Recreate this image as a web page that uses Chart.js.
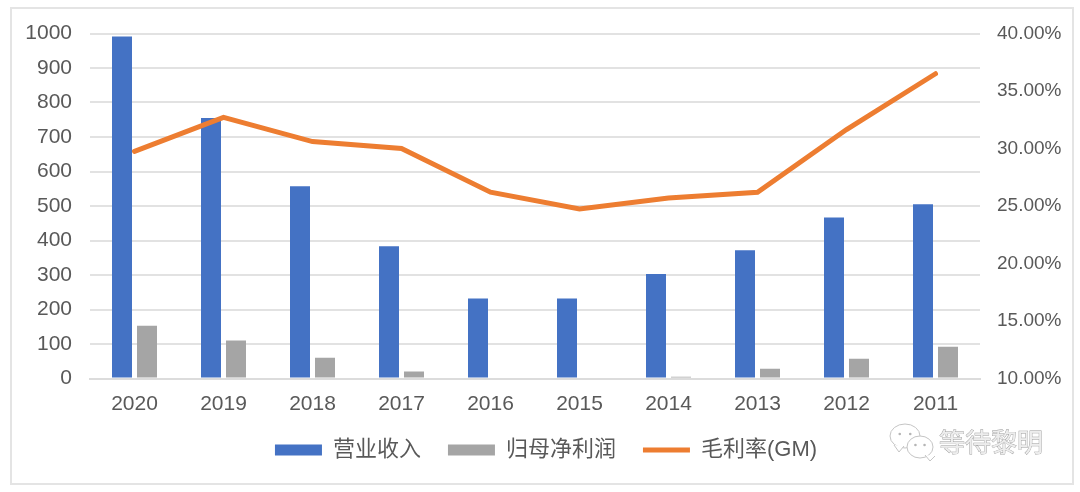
<!DOCTYPE html>
<html>
<head>
<meta charset="utf-8">
<script src="https://cdn.jsdelivr.net/npm/chart.js@4"></script>
<style>
  html, body { margin: 0; padding: 0; background: #fff; }
  .frame { position: absolute; left: 10px; top: 7px; width: 1060px; height: 474px; border: 2px solid #e4e4e4; box-sizing: content-box; }
  #c { position: absolute; left: 0; top: 0; }
</style>
</head>
<body>
<div class="frame"></div>
<canvas id="c" width="1080" height="492"></canvas>
<script>
const years = ['2020', '2019', '2018', '2017', '2016', '2015', '2014', '2013', '2012', '2011']
const revenue = [991, 755, 557, 383, 232, 232, 303, 372, 467, 505]
const netProfit = [153, 110, 60, 20, 0, 0, 5, 28, 57, 92]
const grossMargin = [29.75, 32.7, 30.6, 30.0, 26.2, 24.75, 25.7, 26.2, 31.65, 36.5]

const gray = '#595959'
const fontFamily = '"Liberation Sans", "Noto Sans CJK SC", sans-serif'

// one speech bubble of the logo, tail then eyes
const bubble = (ctx, x, y, rx, ry, tailX, tailY) => {
  ctx.beginPath()
  ctx.ellipse(x, y, rx, ry, 0, 0, Math.PI * 2)
  ctx.fill()
  ctx.stroke()
  ctx.beginPath()
  ctx.moveTo(tailX - 5, y + ry - 3)
  ctx.lineTo(tailX, tailY)
  ctx.lineTo(tailX + 5, y + ry - 2)
  ctx.fill()
  ctx.stroke()
  ctx.fillStyle = '#b5b5b5'
  ctx.beginPath()
  ctx.arc(x - rx * 0.35, y - 2, 1.3, 0, Math.PI * 2)
  ctx.arc(x + rx * 0.35, y - 2, 1.3, 0, Math.PI * 2)
  ctx.fill()
  ctx.fillStyle = '#fff'
}

// watermark in the bottom right corner
const watermark = {
  id: 'watermark',
  afterDraw(chart) {
    const ctx = chart.ctx
    ctx.save()
    ctx.font = '26px ' + fontFamily
    ctx.fillStyle = '#ededed'
    ctx.strokeStyle = '#9a9a9a'
    ctx.lineWidth = 0.8
    ctx.textBaseline = 'middle'
    ctx.strokeText('等待黎明', 939, 445)
    ctx.fillText('等待黎明', 939, 445)
    ctx.strokeStyle = '#c4c4c4'
    ctx.lineWidth = 1
    ctx.fillStyle = '#fff'
    bubble(ctx, 905, 436, 15, 12, 899, 452)
    bubble(ctx, 920, 447, 13, 11, 930, 461)
    ctx.restore()
  }
}

new Chart(document.getElementById('c'), {
  data: {
    labels: years,
    datasets: [
      { type: 'line', label: '毛利率(GM)', data: grossMargin, yAxisID: 'y1', order: 0,
        borderColor: '#ED7D31', backgroundColor: '#ED7D31', borderWidth: 5, pointRadius: 0,
        tension: 0, borderCapStyle: 'round', pointStyle: 'line' },
      { type: 'bar', label: '营业收入', data: revenue, yAxisID: 'y', order: 1,
        backgroundColor: '#4472C4', pointStyle: 'rect',
        categoryPercentage: 50 / 89, barPercentage: 0.8 },
      { type: 'bar', label: '归母净利润', data: netProfit, yAxisID: 'y', order: 2,
        backgroundColor: '#A5A5A5', pointStyle: 'rect',
        categoryPercentage: 50 / 89, barPercentage: 0.8 }
    ]
  },
  options: {
    responsive: false,
    animation: false,
    layout: { padding: { left: 12, right: 0, top: 33.5, bottom: 21 } },
    plugins: {
      tooltip: { enabled: false },
      legend: {
        position: 'bottom',
        labels: {
          usePointStyle: true,
          pointStyleWidth: 47,
          boxHeight: 11,
          padding: 27,
          color: gray,
          font: { size: 22, family: fontFamily },
          sort: (a, b) => a.datasetIndex === 0 ? 1 : b.datasetIndex === 0 ? -1 : a.datasetIndex - b.datasetIndex
        }
      }
    },
    scales: {
      x: {
        afterFit: s => { s.height = 33.5 },
        grid: { display: false },
        border: { color: '#dcdcdc', width: 2 },
        ticks: { color: gray, font: { size: 21, family: fontFamily }, padding: 5.5, maxRotation: 0 }
      },
      y: {
        min: 0, max: 1000,
        afterFit: s => { s.width = 78 },
        grid: { color: '#e2e2e2', lineWidth: 2, drawTicks: false },
        border: { display: false },
        ticks: { stepSize: 100, color: gray, font: { size: 21, family: fontFamily }, padding: 18,
          callback: v => String(v) }
      },
      y1: {
        position: 'right',
        min: 10, max: 40,
        afterFit: s => { s.width = 100 },
        grid: { display: false, drawTicks: false },
        border: { display: false },
        ticks: { stepSize: 5, color: gray, font: { size: 19, family: fontFamily }, padding: 17,
          callback: v => v.toFixed(2) + '%' }
      }
    }
  },
  plugins: [watermark]
})
</script>
</body>
</html>
